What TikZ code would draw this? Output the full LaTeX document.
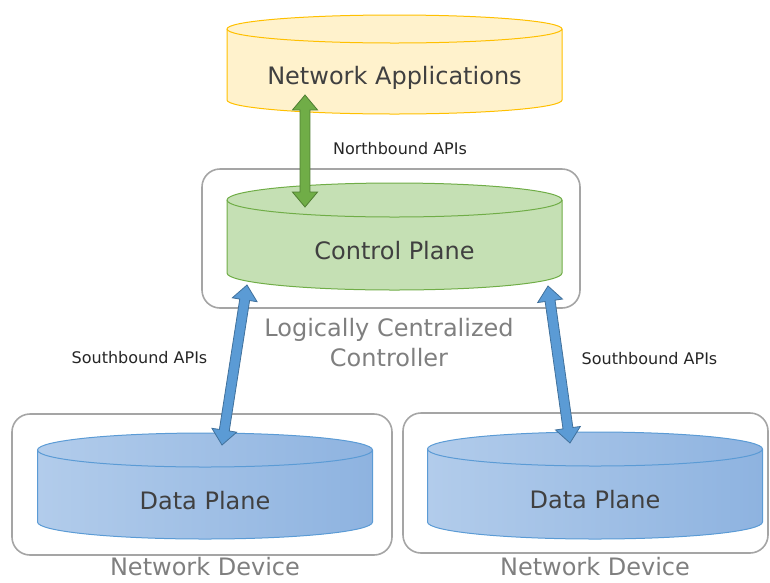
\documentclass[tikz,border=0pt]{standalone}
\usepackage{fontspec}
\setmainfont{DejaVu Sans}
\usetikzlibrary{calc,positioning}

\definecolor{appfill}{HTML}{FFF2CC}
\definecolor{appline}{HTML}{FFC000}
\definecolor{ctrlfill}{HTML}{C5E0B4}
\definecolor{ctrlline}{HTML}{70AD47}
\definecolor{dataleft}{HTML}{B2CCEB}
\definecolor{dataright}{HTML}{8EB3E0}
\definecolor{dataline}{HTML}{5B9BD5}
\definecolor{nbfill}{HTML}{70AD47}
\definecolor{nbline}{HTML}{507E32}
\definecolor{sbfill}{HTML}{5B9BD5}
\definecolor{sbline}{HTML}{41719C}
\definecolor{boxline}{HTML}{A5A5A5}
\definecolor{grouptext}{HTML}{7F7F7F}
\definecolor{planetext}{HTML}{404040}

\tikzset{
	planelabel/.style={font=\fontsize{24}{29}\selectfont, text=planetext, inner sep=0pt},
	group/.style={draw=boxline, line width=1.6pt, rounded corners=18pt},
	grouplabel/.style={font=\fontsize{24}{30}\selectfont, text=grouptext, align=center, inner sep=0pt},
	apilabel/.style={font=\fontsize{16}{19}\selectfont, text=black!85, inner sep=0pt},
	% fat double headed arrow as an outlined polygon
	fatarrow/.style={line width=0.8pt, line join=miter, to path={
		-- ($(\tikztostart)!19.5pt!40:(\tikztotarget)$)
		-- ($(\tikztostart)!15.8pt!18.4:(\tikztotarget)$)
		-- ($(\tikztotarget)!15.8pt!-18.4:(\tikztostart)$)
		-- ($(\tikztotarget)!19.5pt!-40:(\tikztostart)$)
		-- (\tikztotarget)
		-- ($(\tikztotarget)!19.5pt!40:(\tikztostart)$)
		-- ($(\tikztotarget)!15.8pt!18.4:(\tikztostart)$)
		-- ($(\tikztostart)!15.8pt!-18.4:(\tikztotarget)$)
		-- ($(\tikztostart)!19.5pt!-40:(\tikztotarget)$)
		-- cycle}}
}

% cylinder: name, centre x, top y, bottom y, cap radius, fill, line colour, text
\newcommand{\drum}[8]{%
	\draw[#6, draw=#7, line width=1pt] (#2-167.5,#3) -- (#2-167.5,#4)
		arc[start angle=180, end angle=360, x radius=167.5pt, y radius=#5pt]
		-- (#2+167.5,#3)
		arc[start angle=0, end angle=180, x radius=167.5pt, y radius=#5pt] -- cycle;
	\draw[#7, line width=1pt] (#2-167.5,#3)
		arc[start angle=180, end angle=360, x radius=167.5pt, y radius=#5pt];
	\coordinate (#1-top) at (#2,#3-#5);
	\coordinate (#1-bot) at (#2,#4+#5);
	\node[planelabel] (#1) at (#2,{(#3+#5+#4)/2+6}) {#8};
}

\begin{document}
\begin{tikzpicture}[x=1pt, y=-1pt]
	\useasboundingbox (0,0) rectangle (770,582);

	% containers
	\draw[group] (202,169) rectangle (580,308);
	\coordinate (ctrlbox) at (391,308);
	\draw[group] (12,414) rectangle (392,555);
	\draw[group] (403,413) rectangle (768,553);

	% planes
	\drum{apps}{394.5}{29}{100}{14}{fill=appfill}{appline}{Network Applications}
	\drum{ctrl}{394.5}{200}{273}{17}{fill=ctrlfill}{ctrlline}{Control Plane}
	\drum{dp1}{205}{450}{522}{17}{left color=dataleft, right color=dataright}{dataline}{Data Plane}
	\drum{dp2}{595}{449}{522}{17}{left color=dataleft, right color=dataright}{dataline}{Data Plane}

	% labels
	\node[grouplabel, below=10pt of ctrlbox, xshift=-2pt] (ctrllbl) {Logically Centralized\\Controller};
	\node[grouplabel] (dev1) at (205,567) {Network Device};
	\node[grouplabel] (dev2) at (595,567) {Network Device};

	% api arrows
	\coordinate (nbtop) at ([xshift=-89.5pt,yshift=19pt]apps-bot);
	\coordinate (nbbot) at ([xshift=-89.5pt,yshift=-24pt]ctrl-top);
	\coordinate (sb1top) at ([xshift=-147.5pt,yshift=5pt]ctrl-bot);
	\coordinate (sb1bot) at ([xshift=17pt,yshift=-12pt]dp1-top);
	\coordinate (sb2top) at ([xshift=153.5pt,yshift=4pt]ctrl-bot);
	\coordinate (sb2bot) at ([xshift=-25pt,yshift=-11pt]dp2-top);

	\draw[fatarrow, fill=nbfill, draw=nbline] (nbtop) to (nbbot);
	\draw[fatarrow, fill=sbfill, draw=sbline] (sb1top) to (sb1bot);
	\draw[fatarrow, fill=sbfill, draw=sbline] (sb2top) to (sb2bot);

	\node[apilabel] (nblbl) at (400,149) {Northbound APIs};
	\node[apilabel] (sblbl1) at (139.5,358) {Southbound APIs};
	\node[apilabel] (sblbl2) at (649.5,359) {Southbound APIs};
\end{tikzpicture}
\end{document}
